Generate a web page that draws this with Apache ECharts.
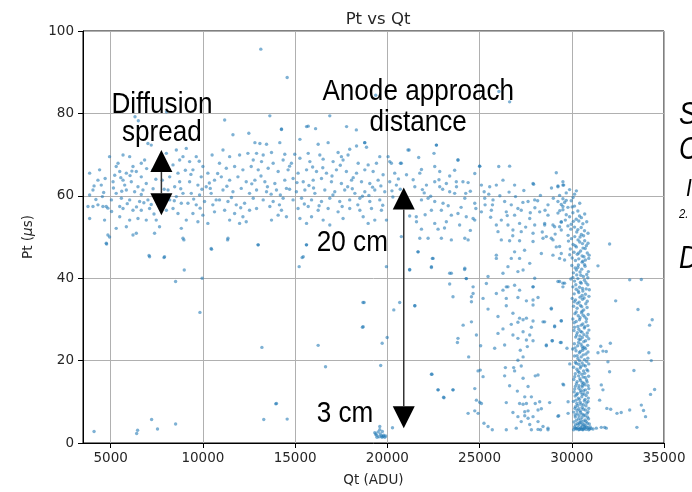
<!DOCTYPE html>
<html>
<head>
<meta charset="utf-8">
<script src="https://cdn.jsdelivr.net/npm/echarts@6/dist/echarts.min.js"></script>
<style>html,body{margin:0;padding:0;background:#fff;}#main{width:692px;height:492px;}</style>
</head>
<body>
<div id="main"></div>
<script>
// ---- data (Qt in ADU, Pt in microseconds) ----
const chartTitle = 'Pt vs Qt';
const xName = 'Qt (ADU)';
const xTicks = [5000, 10000, 15000, 20000, 25000, 30000, 35000];
const yTicks = [0, 20, 40, 60, 80, 100];

const bandLeft = [
[3860,65.5],[4400,66.3],[4310,63.8],[4490,62.6],[4040,61.4],[3860,60.2],[3770,57.4],[4040,57.4],[4310,57.8],[4580,57.4],
[4760,57.4],[4850,57.0],[3860,54.5],[4670,54.1],[5220,65.0],[5130,63.4],[4940,69.5],[5400,67.9],[4850,50.5],[4760,48.5],
[4940,50.0],[5300,52.1],[5040,59.0],[5300,60.6],[5490,57.4],[5670,69.9],[6030,69.5],[6210,67.1],[5490,65.9],[5850,65.5],
[6390,65.9],[6660,64.6],[5670,63.8],[6120,63.4],[6480,62.2],[6930,63.0],[5850,61.4],[6300,61.0],[6750,61.4],[5580,59.4],
[6030,59.0],[6570,58.6],[7020,59.0],[5670,56.9],[6210,56.5],[6660,56.5],[7110,56.9],[5490,54.9],[6030,54.1],[6480,54.5],
[6930,54.1],[5850,52.5],[6390,50.9],[6210,50.5],[7110,45.2],[7020,72.7],[7200,72.3],[6660,67.9],[6840,68.7],[5300,67.1],
[7650,52.5],[7380,50.9],[7920,45.2],[7470,54.1],[8020,56.5],[8380,56.9],[8650,55.7],[8200,59.0],[8560,59.8],[8830,58.2],
[8110,61.4],[8470,62.2],[8740,63.4],[8200,64.6],[8650,65.5],[8380,67.5],[8740,68.7],[8020,70.3],[8560,71.1],[8920,69.5],
[7650,68.3],[7290,66.3],[8920,49.7],[8830,52.1],[8920,60.6],[9100,71.5],[9280,68.3],[9640,69.5],[10000,67.1],[9460,66.3],
[9910,64.6],[10270,65.5],[9280,63.4],[9730,62.6],[10180,62.2],[10630,63.8],[9370,60.6],[9820,60.2],[10450,60.6],[9190,58.2],
[9640,57.8],[10090,58.6],[10540,57.8],[9460,55.7],[10000,55.3],[10630,56.1],[9730,53.7],[10270,53.3],[9100,54.1],[10450,47.2],
[10720,59.0],[11180,78.4],[11630,74.8],[12490,75.2],[11090,71.1],[11450,69.5],[11990,69.9],[12440,70.3],[10900,67.9],[11270,66.7],
[11720,67.1],[12170,66.3],[12620,67.1],[11000,64.6],[11450,63.8],[11900,64.6],[12350,63.4],[11090,61.4],[11630,61.0],[12080,61.8],
[12530,60.6],[10900,59.0],[11360,58.6],[11810,57.8],[12260,58.2],[11180,56.5],[11720,55.7],[12170,54.9],[12530,56.5],[11450,54.1],
[11990,53.3],[11360,49.7],[12350,53.7],[6320,79.2],[6500,78.2],[8030,80.4],[4200,59.1],[4620,60.8],[5150,61.9],[5760,62.6],
[6660,60.3],[7300,61.7],[7600,59.6],[7800,63.8],[5900,58.1],[6400,57.3],[7200,57.9],[9500,59.2],[9950,61.6],[10350,63.1],
[4100,62.4],[4700,64.2],[5550,64.4],[6150,66.0],[6950,66.6],[7450,64.0],[9050,66.2],[9800,68.4],[10500,69.9],[11300,62.3]
];

const bandMid = [
[13630,79.4],[16880,79.4],[14260,76.1],[15710,76.9],[15260,73.7],[12820,72.9],[13090,72.7],[13450,72.5],[14170,72.9],[16250,72.5],
[16790,72.9],[18330,72.1],[18780,72.9],[17960,71.3],[18870,71.8],[21120,71.1],[12910,70.3],[13270,69.9],[13720,70.5],[14440,70.1],
[14980,70.1],[15710,70.3],[16340,69.9],[17330,70.5],[17870,69.9],[12730,68.7],[13180,68.3],[13810,67.9],[14350,68.7],[14800,67.9],
[15260,69.1],[15800,68.3],[16520,68.9],[17060,68.3],[17600,68.7],[18420,67.9],[18960,67.5],[19410,67.9],[20130,68.3],[20760,67.9],
[13000,66.3],[13540,66.7],[14080,65.9],[14620,66.3],[15160,65.5],[15620,66.3],[16160,65.9],[16700,65.5],[17240,66.3],[17780,65.9],
[18330,65.5],[18780,66.3],[19230,65.9],[19770,65.1],[20400,65.5],[21040,65.1],[12820,63.8],[13360,63.4],[13900,63.0],[14440,63.8],
[14890,64.2],[15440,63.4],[15980,63.8],[16430,64.2],[16970,63.4],[17510,63.0],[18060,63.8],[18600,63.4],[19050,63.0],[19500,63.8],
[20130,63.4],[20490,62.6],[12910,61.4],[13450,61.0],[13990,61.4],[14530,61.8],[15070,61.0],[15530,61.4],[16070,60.6],[16610,61.4],
[17150,61.0],[17690,61.4],[18240,60.6],[18780,61.0],[19320,61.4],[19860,61.0],[12730,59.4],[13270,59.0],[13810,58.6],[14350,59.4],
[14890,59.0],[15350,59.4],[15890,59.0],[16430,58.6],[16880,59.4],[17420,58.6],[17960,59.0],[18510,59.4],[19050,58.6],[19590,59.0],
[12910,56.9],[13630,57.4],[14260,56.5],[15160,56.9],[15710,57.4],[16250,56.5],[16790,56.9],[17330,56.1],[17960,56.9],[18510,56.5],
[19140,56.9],[19680,56.5],[14080,55.3],[14530,54.9],[15260,54.5],[15890,54.9],[16520,54.1],[17600,54.5],[18690,54.9],[19320,54.1],
[13720,54.1],[15620,53.3],[16880,52.9],[18960,53.3],[19950,54.1],[13000,48.1],[15620,48.1],[15440,45.2],[20760,50.1],[21210,55.1],
[21570,54.9],[14260,76.2],[15620,76.8],[16110,76.3],[17790,76.8],[18320,76.0],[19370,84.4],[17510,69.5],[19590,69.5],[20040,69.5],
[20220,67.9],[20710,67.9],[21180,71.1],[13500,62.2],[14200,60.2],[15750,62.5],[16300,57.6],[17000,64.8],[17850,62.2],[18400,57.8],
[19000,60.1],[19650,62.4],[20300,59.7],[20700,61.6],[21000,58.3],[14700,67.2],[15950,67.0],[17450,67.4],[18150,64.4],[20600,64.1]
];

const bandRight = [
[22660,72.3],[22530,70.3],[21700,69.3],[23830,68.7],[22570,67.1],[21850,66.4],[21760,65.5],[22840,65.9],[23380,64.8],[23650,66.2],
[24740,65.4],[25010,67.2],[26040,67.1],[26630,67.2],[29160,65.6],[21490,62.2],[22120,62.6],[22570,63.4],[22840,62.2],[23200,63.0],
[23740,63.4],[24100,63.4],[24380,63.2],[25100,62.6],[25550,62.2],[25910,62.6],[26270,63.8],[26900,62.6],[27900,63.0],[29250,62.2],
[29520,63.4],[21850,59.0],[22210,59.4],[22570,58.6],[23020,58.2],[23380,61.0],[23650,60.6],[24200,59.4],[24740,58.2],[25280,59.4],
[25730,59.0],[26360,58.6],[26720,57.8],[27080,56.9],[27630,58.6],[27990,59.0],[28710,57.8],[29250,58.6],[29520,57.4],[22390,56.5],
[22930,56.5],[23470,55.3],[23830,55.7],[24280,54.9],[24650,54.5],[25100,56.1],[25640,56.5],[26180,54.1],[26450,56.1],[26900,55.3],
[27260,56.5],[27720,54.5],[28260,56.1],[28710,55.3],[29430,53.7],[21580,53.7],[22570,53.3],[23200,53.7],[23920,52.9],[24740,54.1],
[25910,52.9],[26540,52.9],[27170,53.3],[27990,52.9],[28530,52.9],[28980,52.9],[21850,51.9],[22750,51.9],[26000,51.3],[26810,51.7],
[27260,51.3],[27900,50.9],[29430,51.7],[21760,49.7],[22210,49.7],[22930,49.7],[23470,49.3],[24200,49.7],[24380,49.3],[26180,49.3],
[26630,49.1],[27170,49.1],[27900,48.9],[28440,49.7],[28890,49.7],[29160,47.6],[21670,46.4],[25910,45.6],[26900,46.4],[27440,46.8],
[28350,46.0],[28980,45.6],[29430,46.0],[22480,44.8],[25910,44.8],[26720,44.8],[27170,44.8],[22390,42.8],[24200,42.4],[26540,42.8],
[27360,42.0],[27720,43.6],[23470,41.2],[25460,40.4],[26270,41.2],[27080,41.6],[27990,40.0],[23380,38.6],[24280,39.9],[24650,37.9],
[25370,38.7],[26450,37.9],[26900,38.3],[27900,37.9],[29250,39.2],[29520,38.8],[26050,85.3],[26630,82.8],[18770,72.9],[22660,72.3],
[23830,68.7],[25000,67.2],[27930,62.8],[29520,62.6],[22000,60.7],[23000,61.6],[24500,61.1],[25500,60.4],[26600,60.9],[27400,61.3],
[28300,60.1],[28900,61.9],[21300,57.4],[24000,57.2],[25300,57.8],[28000,57.1]
];

const bandExtra = [
[4550,59.8],[5050,56.2],[5600,61.1],[6050,64.9],[6800,58.3],[7350,55.6],[7900,61.6],[8450,58.8],[8800,61.7],[9350,65.2],
[9850,57.0],[10400,61.8],[10800,65.4],[11550,59.6],[12050,57.1],[12650,62.9],[13150,64.8],[13700,60.4],[14150,57.8],[14700,61.6],
[15100,63.2],[15500,58.0],[16000,61.9],[16500,66.8],[17050,60.2],[17550,57.4],[18100,61.7],[18650,59.9],[19200,62.1],[19750,57.7],
[20250,61.2],[20900,60.1],[21400,63.9],[21900,61.5],[22350,59.9],[22800,63.9],[23300,57.6],[23750,62.2],[24250,60.6],[24800,56.9],
[25250,61.0],[25700,57.8],[26100,60.0],[26500,55.2],[26950,59.8],[27350,58.4],[27750,55.9],[28150,58.8],[28550,56.5],[29000,59.4],
[29350,56.4],[29700,58.9],[22050,55.4],[23100,52.2],[24500,51.6],[25600,54.8],[26800,50.3],[27500,52.4],[28400,51.2],[29100,50.7]
];

const descent = [
[23560,35.5],[24560,35.5],[24650,36.3],[24560,34.3],[25190,35.1],[25910,36.3],[26270,37.1],[26540,37.9],[27170,37.1],[27900,37.9],
[29520,37.9],[26450,35.1],[27080,35.3],[27540,34.5],[27900,34.7],[28170,35.3],[25460,32.5],[26450,33.3],[27900,33.5],[28890,32.5],
[21490,33.3],[26000,30.7],[26810,31.5],[27170,30.3],[27360,29.9],[27540,30.3],[27900,29.6],[28440,29.4],[29430,29.6],[24110,28.6],
[24560,29.4],[26720,28.8],[27080,29.3],[26270,27.7],[27810,28.1],[29070,28.2],[27360,27.0],[27720,26.2],[24830,26.2],[26000,26.6],
[26810,26.2],[23830,25.4],[23800,24.4],[27080,25.4],[27540,25.0],[27900,24.8],[28620,23.6],[28930,24.8],[29430,24.4],[25060,23.6],
[25820,23.0],[26360,23.8],[27590,23.4],[27210,22.5],[27360,20.9],[24410,20.9],[27080,20.1],[26400,18.3],[26850,18.3],[27260,18.7],
[24920,17.5],[25040,17.7],[25190,16.1],[26360,16.3],[26900,17.5],[27360,15.7],[28020,16.3],[28170,16.5],[29520,14.3],[22420,16.7],
[26630,13.9],[27630,13.7],[24740,13.2],[22750,12.9],[23560,12.9],[23070,11.0],[27050,12.6],[27450,11.2],[27810,11.2],[28020,9.6],
[28260,10.0],[24830,10.4],[25010,9.9],[25100,9.6],[26450,9.8],[27170,9.6],[27360,9.4],[27540,9.6],[24740,7.8],[24920,7.2],
[24380,7.2],[26810,7.4],[27450,7.6],[27630,7.8],[28170,8.0],[28350,8.3],[29290,6.6],[27080,6.4],[27450,6.6],[27900,6.4],
[28170,5.2],[25240,4.8],[25460,4.0],[25690,3.2],[26450,3.2],[26990,3.6],[27260,5.2],[27720,4.5],[27810,3.2],[28170,3.3],
[28310,3.2],[28440,4.0],[28710,3.2],[27630,6.0],[21210,42.1],[21660,46.4],[22390,42.6],[22440,44.8],[23380,41.2],[24190,42.1],
[24280,39.9],[22390,16.7],[22750,12.9],[23050,11.1],[23560,12.9],[28530,53.3],[28620,50.1],[28980,49.3],[29070,52.5],[29340,47.7],
[29340,44.8],[29610,44.4],[29340,39.2],[29610,38.8],[28890,32.7],[28530,29.4],[29070,28.4],[29430,29.7],[28620,23.8],[28950,24.8],
[29380,24.4],[29740,23.0],[29890,19.2],[29560,14.1],[28800,9.8],[29800,10.0],[29250,6.5],[29800,7.2],[28710,3.6]
];

const column = [
[29250,62.4],[29560,62.6],[29340,60.1],[29520,59.3],[29700,60.7],[29880,61.5],[30250,61.2],[29430,57.9],[29610,58.4],[29790,57.2],
[29970,58.8],[30150,57.5],[30330,56.3],[30070,59.6],[29250,55.8],[29520,56.6],[29700,55.4],[29880,54.9],[30060,55.9],[30240,54.3],
[30420,55.1],[30600,53.2],[29430,53.6],[29790,52.7],[29970,53.1],[30150,52.4],[30330,51.8],[30510,52.3],[30690,51.5],[30880,50.9],
[30700,55.6],[29340,52.5],[30020,57.3],[30380,53.9],
[29800,50.4],[29980,49.6],[30160,50.1],[30340,49.3],[30520,50.6],[30700,49.1],[30880,48.5],[30070,48.2],[30250,47.6],[30430,48.8],
[30610,47.3],[30790,47.9],[29920,47.1],[30120,46.3],[30300,45.8],[30480,46.6],[30660,45.2],[30840,46.1],[30020,44.9],[30200,44.3],
[30380,44.7],[30560,43.9],[30740,44.4],[30920,44.8],[29890,45.7],[30450,50.0],[30580,48.4],
[30000,43.1],[30180,42.5],[30360,43.2],[30540,42.2],[30720,42.9],[30900,41.6],[30090,41.3],[30270,40.8],[30450,41.5],[30630,40.4],
[30810,40.9],[29950,39.8],[30150,39.3],[30330,39.9],[30510,38.8],[30690,39.5],[30870,38.4],[30060,37.9],[30240,37.3],[30420,37.8],
[30600,36.9],[30780,37.4],[30130,36.2],[30380,36.5],[30560,35.8],[30740,36.1],[30930,35.6],[30250,42.0],[30600,44.1],[30470,39.0],
[30020,35.1],[30200,34.7],[30400,34.2],[30580,34.9],[30760,33.8],[30100,33.2],[30290,32.7],[30470,33.4],[30650,32.3],[30830,32.9],
[30170,31.4],[30350,30.9],[30530,31.6],[30710,30.6],[30890,31.2],[30060,30.1],[30240,29.5],[30420,29.9],[30600,28.9],[30780,29.4],
[30330,28.3],[30510,28.6],[30680,27.9],[30150,28.1],[30870,28.5],[30450,35.4],[30560,32.0],
[30120,27.3],[30300,26.8],[30480,27.1],[30660,26.3],[30840,26.7],[30210,25.7],[30390,25.2],[30570,25.6],[30750,24.8],[30920,25.3],
[30140,24.1],[30320,23.6],[30500,24.0],[30680,23.2],[30860,23.7],[30230,22.4],[30410,21.9],[30590,22.5],[30770,21.6],[30150,21.1],
[30330,20.5],[30510,20.9],[30690,20.2],[30870,20.6],[30440,26.0],[30600,23.0],[30050,22.8],
[30200,19.6],[30380,19.1],[30560,19.4],[30740,18.7],[30920,19.2],[30100,18.4],[30280,17.9],[30460,18.2],[30640,17.5],[30820,17.8],
[30190,16.8],[30370,16.3],[30550,16.7],[30730,15.9],[30910,16.2],[30110,15.4],[30290,14.9],[30470,15.2],[30650,14.5],[30830,14.8],
[30200,13.8],[30380,13.3],[30560,13.6],[30740,12.9],[30920,13.2],[30130,12.4],[30310,12.0],[30490,12.3],[30670,11.9],[30850,12.2],
[30400,17.1],[30580,14.0],
[30180,11.4],[30360,10.9],[30540,11.2],[30720,10.6],[30900,10.9],[30090,10.1],[30270,9.6],[30450,9.9],[30630,9.3],[30810,9.7],
[30200,8.8],[30380,8.3],[30560,8.6],[30740,8.0],[30920,8.4],[30110,7.5],[30290,7.1],[30470,7.4],[30650,6.8],[30830,7.2],
[30190,6.3],[30370,5.9],[30550,6.2],[30730,5.6],[30910,5.9],[30120,5.1],[30300,4.7],[30480,5.0],[30660,4.5],[30840,4.8],
[30150,3.9],[30240,3.4],[30330,3.8],[30420,3.3],[30510,3.7],[30600,3.2],[30690,3.6],[30780,3.3],[30870,3.7],[30960,3.4],
[30100,3.2],[31050,3.5],[30560,4.1],[30380,4.4],[30720,4.2]
];

const columnExtra = [
[30430,58.2],[30150,60.4],[29650,54.1],[30810,53.7],[30270,51.2],[29950,51.9],[30640,50.3],[30090,53.8],[30520,54.7],[29820,49.0],
[30380,46.1],[30730,47.2],[30940,45.6],[30180,47.9],[30560,45.4],[30330,42.6],[30690,43.3],[30060,40.2],[30870,40.1],[30490,40.7],
[30220,38.4],[30580,37.5],[30770,38.9],[30350,36.9],[30950,37.2],[30130,34.3],[30670,35.2],[30310,33.9],[30840,34.4],[30540,33.1],
[30240,31.8],[30450,30.4],[30800,30.1],[30620,31.0],[30130,29.2],[30380,27.6],[30710,28.2],[30550,26.9],[30930,27.4],[30260,26.2],
[30470,25.1],[30820,25.9],[30650,24.6],[30370,24.4],[30180,23.1],[30560,23.5],[30750,22.9],[30460,22.2],[30880,22.1],[30290,21.2],
[30620,21.4],[30420,20.0],[30810,19.8],[30240,19.3],[30650,18.9],[30500,18.6],[30870,17.5],[30340,17.4],[30700,16.9],[30160,16.1],
[30610,16.0],[30440,15.6],[30800,15.3],[30250,14.4],[30560,14.7],[30720,14.1],[30390,13.9],[30890,13.9],[30160,13.1],[30640,12.7],
[30470,12.8],[30260,11.7],[30780,11.5],[30570,11.8],[30410,10.6],[30680,10.2],[30230,10.4],[30880,10.1],[30500,9.4],[30330,9.1],
[30770,9.0],[30170,8.4],[30620,8.2],[30460,7.8],[30880,7.6],[30290,7.9],[30560,7.0],[30720,6.6],[30390,6.6],[30180,6.8],
[30850,6.3],[30490,5.6],[30630,5.3],[30250,5.5],[30780,5.2],[30410,4.9],[30950,4.6],[30200,4.4],[30560,4.6],[30700,3.9],
[30270,3.5],[30460,3.6],[30820,3.9],[30640,3.4],[30380,3.2],[30540,3.3],[30920,3.2],[30180,3.6],[31000,3.9],[31150,3.4]
];

const rightScatter = [
[32050,48.3],[31420,43.0],[33140,39.6],[33770,39.7],[32380,34.5],[33590,32.4],[34360,29.9],[34220,28.6],[31570,23.5],[32090,24.2],
[31870,22.2],[31420,21.9],[31960,19.7],[34180,21.9],[34310,20.0],[33370,17.6],[32050,17.3],[34490,13.0],[34270,11.8],[33770,9.2],
[33890,7.9],[34000,6.4],[33530,3.8],[33140,8.0],[32680,7.4],[32450,7.2],[32110,8.2],[31600,14.1],[31690,12.9],[31510,10.4],
[31600,3.8],[31780,3.8],[31330,3.6],[31870,3.6],[31900,8.4],[31690,22.3]
];

const lowCluster = [
[19320,2.5],[19410,1.9],[19500,2.7],[19550,1.5],[19620,2.2],[19680,1.7],[19730,2.8],[19800,1.9],[19860,1.4],[19440,1.4],
[19590,3.2],[19710,1.4],[19370,2.2],[19770,1.6],[19910,1.7]
];

const sparse = [
[13140,95.6],[14570,88.7],[4780,48.3],[7080,45.5],[7890,45.0],[8990,42.0],[8520,39.2],[9960,40.0],[9840,31.7],[10470,47.0],
[11340,49.3],[12990,48.1],[8970,49.3],[15220,42.8],[15380,45.0],[15610,48.1],[13200,23.2],[16250,23.7],[16650,18.5],[13950,9.5],
[13990,9.6],[13300,5.7],[14570,5.8],[4100,2.8],[6410,2.3],[6460,3.1],[7220,5.7],[7540,3.4],[8520,4.6],[19950,42.8],
[21210,42.0],[18740,34.1],[20670,34.1],[20350,32.3],[21490,33.3],[18690,28.2],[19990,25.6],[19720,24.2],[19640,18.8],[19590,4.0],
[20280,3.7],[18680,34.1],[18650,28.1]
];

// annotations (data coordinates)
const arrows = [
  {qt: 7750, ptTop: 71.1, ptBottom: 55.3},
  {qt: 20890, ptTop: 62.0, ptBottom: 3.6}
];
const labels = [
  {text: 'Diffusion', qt: 7780, pt: 79.6, align: 'center'},
  {text: 'spread', qt: 7780, pt: 72.8, align: 'center'},
  {text: 'Anode approach', qt: 21674, pt: 82.8, align: 'center'},
  {text: 'distance', qt: 21674, pt: 75.2, align: 'center'},
  {text: '20 cm', qt: 16176, pt: 46.1, align: 'left'},
  {text: '3 cm', qt: 16176, pt: 4.6, align: 'left'}
];
// clipped side text fragments (outside plot, pixel positions)
const sideTexts = [
  {text: 'S', x: 679, y: 126, size: 31},
  {text: 'C', x: 679, y: 161, size: 31},
  {text: 'I', x: 686, y: 197, size: 24},
  {text: '2.', x: 679, y: 219, size: 13},
  {text: 'D', x: 679, y: 270, size: 31}
];

const allPoints = [].concat(bandLeft, bandMid, bandRight, bandExtra, descent, column, columnExtra, rightScatter, lowCluster, sparse);

const chart = echarts.init(document.getElementById('main'), null, {renderer: 'canvas'});
const tickFont = {fontFamily: 'DejaVu Sans', fontSize: 13.5, color: '#262626'};
const option = {
  animation: false,
  backgroundColor: '#ffffff',
  title: {
    text: chartTitle, left: 373, top: 6, textAlign: 'center',
    textStyle: {fontFamily: 'DejaVu Sans', fontSize: 16.5, fontWeight: 'normal', color: '#262626'}
  },
  grid: {left: 83, top: 31, right: 28, bottom: 49, show: true, borderColor: '#000', borderWidth: 1, backgroundColor: 'transparent'},
  xAxis: {
    type: 'value', min: 3500, max: 35000,
    name: xName, nameLocation: 'middle', nameGap: 30,
    nameTextStyle: {fontFamily: 'DejaVu Sans', fontSize: 13.5, color: '#262626'},
    axisLine: {show: true, onZero: false, lineStyle: {color: '#000', width: 1}},
    axisTick: {show: true, length: 5, lineStyle: {color: '#000'}, customValues: xTicks},
    axisLabel: Object.assign({margin: 8, customValues: xTicks, formatter: v => String(v)}, tickFont),
    splitLine: {show: true, lineStyle: {color: '#b0b0b0', width: 1}, customValues: xTicks}
  },
  yAxis: {
    type: 'value', min: 0, max: 100, interval: 20,
    name: '{n|Pt (}{m|μ}{n|s)}', nameLocation: 'middle', nameGap: 48,
    nameTextStyle: {rich: {n: {fontFamily: 'DejaVu Sans', fontSize: 13.5, color: '#262626'}, m: {fontFamily: 'DejaVu Sans', fontStyle: 'italic', fontSize: 13.5, color: '#262626'}}},
    axisLine: {show: true, onZero: false, lineStyle: {color: '#000', width: 1}},
    axisTick: {show: true, length: 5, lineStyle: {color: '#000'}},
    axisLabel: Object.assign({margin: 9, formatter: v => String(v)}, tickFont),
    splitLine: {show: true, lineStyle: {color: '#b0b0b0', width: 1}}
  },
  series: [{
    type: 'scatter',
    data: allPoints,
    symbol: 'circle',
    symbolSize: 3.4,
    itemStyle: {color: 'rgba(31,119,180,0.72)'},
    silent: true
  }]
};
chart.setOption(option);

function buildGraphics() {
  const g = [];
  arrows.forEach(a => {
    const p1 = chart.convertToPixel({gridIndex: 0}, [a.qt, a.ptTop]);
    const p2 = chart.convertToPixel({gridIndex: 0}, [a.qt, a.ptBottom]);
    const w = 22, h = 22;
    g.push({type: 'line', z: 100, shape: {x1: p1[0], y1: p1[1] + h, x2: p2[0], y2: p2[1] - h}, style: {stroke: '#333', lineWidth: 1.5}});
    g.push({type: 'polygon', z: 101, shape: {points: [[p1[0], p1[1]], [p1[0] - w / 2, p1[1] + h], [p1[0] + w / 2, p1[1] + h]]}, style: {fill: '#000'}});
    g.push({type: 'polygon', z: 101, shape: {points: [[p2[0], p2[1]], [p2[0] - w / 2, p2[1] - h], [p2[0] + w / 2, p2[1] - h]]}, style: {fill: '#000'}});
  });
  const fs = 30, sx = 0.87;
  labels.forEach(l => {
    const p = chart.convertToPixel({gridIndex: 0}, [l.qt, l.pt]);
    g.push({type: 'text', z: 102, x: p[0], y: p[1] - 0.34 * fs, scaleX: sx, scaleY: 1,
      style: {text: l.text, fontFamily: 'Liberation Sans', fontSize: fs, fill: '#000', align: l.align, verticalAlign: 'middle'}});
  });
  sideTexts.forEach(t => {
    g.push({type: 'text', z: 102, x: t.x, y: t.y - 0.34 * t.size, scaleX: sx, scaleY: 1,
      style: {text: t.text, fontFamily: 'Liberation Sans', fontStyle: 'italic', fontSize: t.size, fill: '#000', align: 'left', verticalAlign: 'middle'}});
  });
  chart.setOption({graphic: g});
}
buildGraphics();
</script>
</body>
</html>
